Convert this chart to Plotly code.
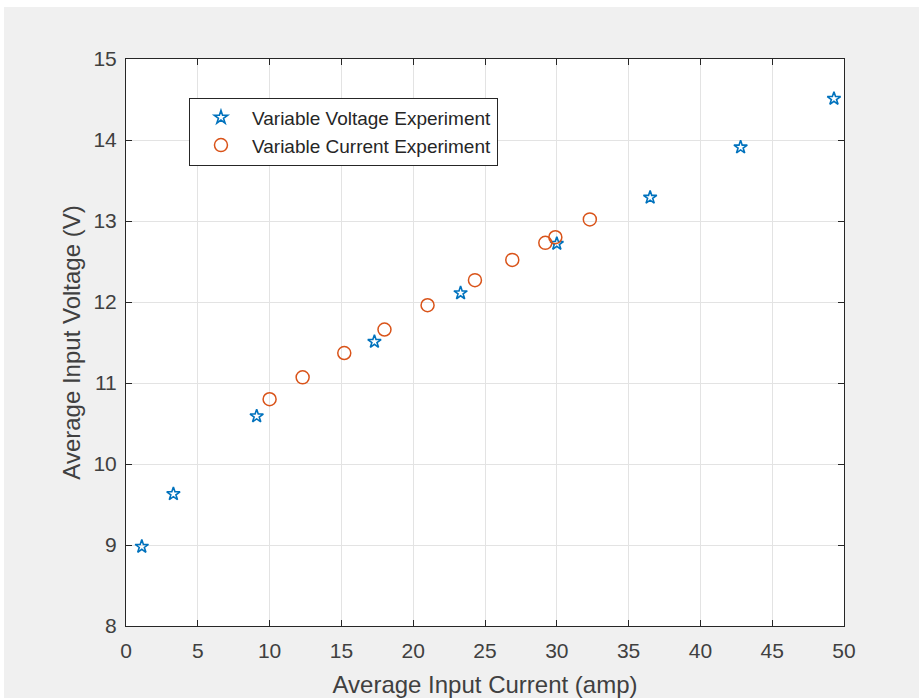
import plotly.graph_objects as go

# Variable Voltage Experiment (stars)
vv_current = [1.1, 3.3, 9.1, 17.3, 23.3, 30.0, 36.5, 42.8, 49.3]
vv_voltage = [8.98, 9.63, 10.59, 11.51, 12.11, 12.72, 13.29, 13.91, 14.51]

# Variable Current Experiment (circles)
vc_current = [10.0, 12.3, 15.2, 18.0, 21.0, 24.3, 26.9, 29.2, 29.9, 32.3]
vc_voltage = [10.80, 11.07, 11.37, 11.66, 11.96, 12.27, 12.52, 12.73, 12.80, 13.02]

x_ticks = list(range(0, 51, 5))
y_ticks = list(range(8, 16))

FONT = "Liberation Sans, Arial, sans-serif"

fig = go.Figure()
fig.add_trace(go.Scatter(
    x=vv_current, y=vv_voltage, mode="markers",
    name="Variable Voltage Experiment",
    marker=dict(symbol="star-open", size=10, color="#0072BD", line=dict(width=1.6, color="#0072BD")),
))
fig.add_trace(go.Scatter(
    x=vc_current, y=vc_voltage, mode="markers",
    name="Variable Current Experiment",
    marker=dict(symbol="circle-open", size=13, color="#D95319", line=dict(width=1.5, color="#D95319")),
))

axis_common = dict(
    showline=True, linecolor="#262626", linewidth=1, mirror="ticks",
    ticks="inside", ticklen=6, tickcolor="#262626", tickwidth=1,
    showgrid=True, gridcolor="#e3e3e3", gridwidth=1, zeroline=False,
    tickfont=dict(family=FONT, size=21, color="#404040"),
    automargin=False,
)

fig.update_xaxes(
    range=[0, 50], tickvals=x_ticks, ticktext=[str(v) for v in x_ticks],
    ticklabelstandoff=6,
    title=dict(text="Average Input Current (amp)", standoff=15,
               font=dict(family=FONT, size=24, color="#404040")),
    **axis_common,
)
fig.update_yaxes(
    range=[8, 15], tickvals=y_ticks, ticktext=[str(v) for v in y_ticks],
    ticklabelstandoff=4,
    title=dict(text="Average Input Voltage (V)", standoff=6,
               font=dict(family=FONT, size=24, color="#404040")),
    **axis_common,
)

fig.update_layout(
    width=919, height=698,
    margin=dict(l=126, r=75, t=59, b=72),
    paper_bgcolor="#f0f0f0", plot_bgcolor="white",
    showlegend=True,
    legend=dict(
        x=0.0877, y=0.932, xanchor="left", yanchor="top",
        bgcolor="white", bordercolor="#262626", borderwidth=1,
        font=dict(family=FONT, size=19, color="#262626"),
        tracegroupgap=0, itemsizing="trace", itemwidth=52,
    ),
    shapes=[
        dict(type="rect", xref="paper", yref="paper", x0=-0.3, x1=1.2, y0=1.0917, y1=1.3,
             fillcolor="white", line=dict(width=0), layer="below"),
        dict(type="rect", xref="paper", yref="paper", x0=-0.3, x1=-0.1699, y0=-0.3, y1=1.3,
             fillcolor="white", line=dict(width=0), layer="below"),
    ],
)

fig.write_html("out.html")
